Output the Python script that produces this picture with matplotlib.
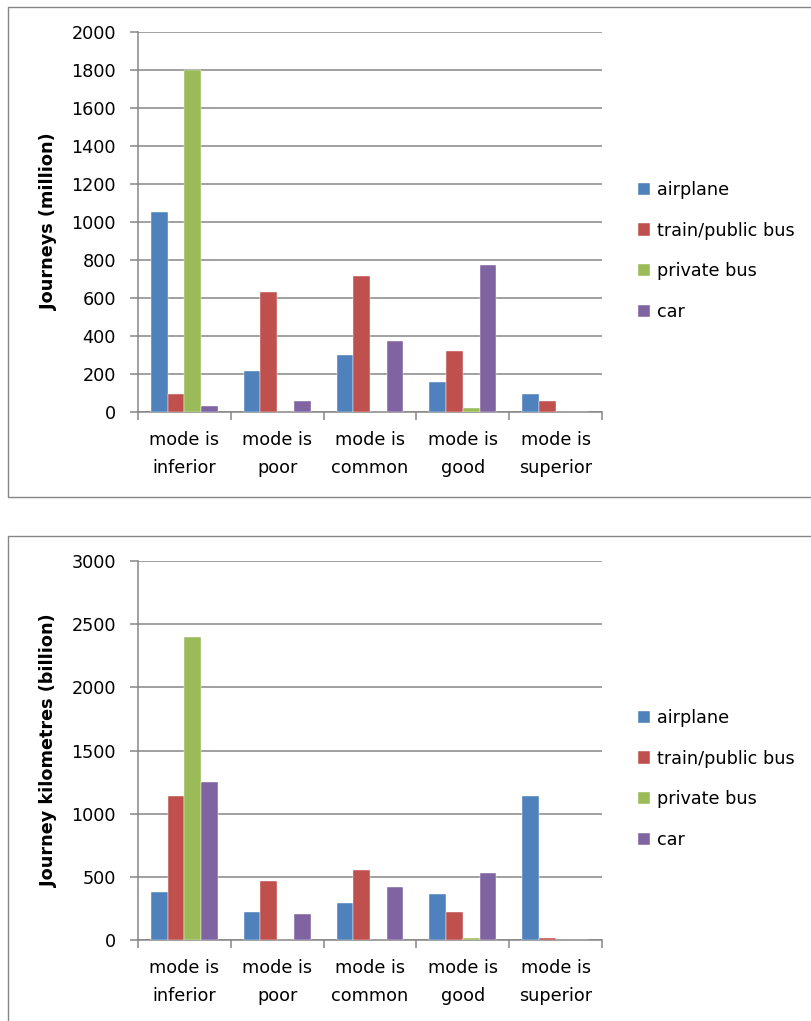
import matplotlib
matplotlib.use("Agg")
import matplotlib.pyplot as plt
from matplotlib.lines import Line2D
import numpy as np

plt.rcParams['font.family'] = ['DejaVu Sans']

categories = ["mode is\ninferior", "mode is\npoor", "mode is\ncommon", "mode is\ngood", "mode is\nsuperior"]
series_names = ["airplane", "train/public bus", "private bus", "car"]
colors = ["#4F81BD", "#C0504D", "#9BBB59", "#8064A2"]

# Journeys (million)
journeys_airplane = [1055, 215, 300, 157, 95]
journeys_train = [95, 632, 716, 323, 58]
journeys_private = [1800, 0, 0, 23, 0]
journeys_car = [30, 60, 372, 774, 0]

# Journey kilometres (billion)
km_airplane = [380, 222, 293, 362, 1143]
km_train = [1143, 467, 555, 220, 16]
km_private = [2400, 0, 0, 13, 0]
km_car = [1248, 206, 417, 530, 0]

W, H = 812, 1021
fig = plt.figure(figsize=(W / 100, H / 100), dpi=100)

grid_col = "#868686"
fs = 12.7


def fx(px):
    return px / W


def fy(py):
    return 1 - py / H


def panel_frame(top, bottom):
    # open-ended frame: top, left and bottom edges
    pts_x = [fx(W + 5), fx(8), fx(8), fx(W + 5)]
    pts_y = [fy(top), fy(top), fy(bottom), fy(bottom)]
    fig.add_artist(Line2D(pts_x, pts_y, transform=fig.transFigure,
                          color=grid_col, linewidth=1.0, zorder=0))


def bar_panel(rect, series, ymax, ystep, ylabel, legend_center_y):
    ax = fig.add_axes(rect)
    x = np.arange(len(categories))
    bw = 0.18
    for i, (vals, name, c) in enumerate(zip(series, series_names, colors)):
        ax.bar(x + (i - 1.5) * bw, vals, width=bw, color=c, label=name,
               edgecolor="white", linewidth=0.3, zorder=3)
    ax.set_xlim(-0.5, len(categories) - 0.5)
    ax.set_ylim(0, ymax)
    ax.set_yticks(np.arange(0, ymax + 1, ystep))
    ax.yaxis.grid(True, color=grid_col, linewidth=1.1, zorder=0)
    ax.set_axisbelow(True)
    for s in ["top", "right"]:
        ax.spines[s].set_visible(False)
    for s in ["left", "bottom"]:
        ax.spines[s].set_color(grid_col)
        ax.spines[s].set_linewidth(1.1)
    ax.set_xticks(x)
    ax.set_xticklabels(categories, fontsize=fs, linespacing=1.7)
    ax.set_xticks(np.arange(-0.5, len(categories)), minor=True)
    ax.tick_params(axis="x", which="major", length=0, pad=14)
    ax.tick_params(axis="x", which="minor", length=6, width=1.1, color=grid_col, direction="out")
    ax.tick_params(axis="y", length=6, width=1.1, color=grid_col, pad=10, labelsize=fs)
    ax.set_ylabel(ylabel, fontsize=fs, fontweight="bold")
    ax.yaxis.set_label_coords((58 - 138) / 464, 0.5)
    fig.legend(*ax.get_legend_handles_labels(), loc="center left",
               bbox_to_anchor=(fx(631), fy(legend_center_y)), frameon=False,
               fontsize=fs, handlelength=0.7, handleheight=0.7,
               handletextpad=0.4, labelspacing=1.28, borderaxespad=0)
    return ax


panel_frame(7, 497)
panel_frame(536, 1100)

ax1 = bar_panel([fx(138), fy(412), fx(602) - fx(138), fy(32) - fy(412)],
                [journeys_airplane, journeys_train, journeys_private, journeys_car],
                2000, 200, "Journeys (million)", 251)
ax2 = bar_panel([fx(138), fy(940), fx(602) - fx(138), fy(561) - fy(940)],
                [km_airplane, km_train, km_private, km_car],
                3000, 500, "Journey kilometres (billion)", 779)

fig.savefig("out.png", dpi=100)
